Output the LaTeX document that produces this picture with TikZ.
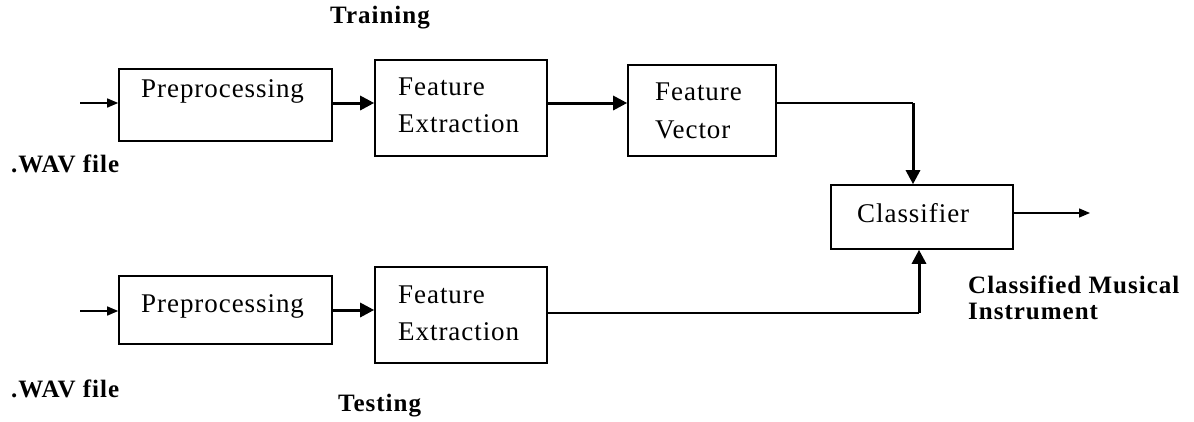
\documentclass[tikz,border=0pt]{standalone}
\usepackage{fontspec}
\setmainfont{Liberation Serif}
\newfontfamily\boxfont[LetterSpace=3.5]{Liberation Serif}
\newfontfamily\lblfont[LetterSpace=4]{Liberation Serif}
\usetikzlibrary{arrows.meta}
\begin{document}
\begin{tikzpicture}[x=1pt,y=-1pt,
  blk/.style={draw,line width=1.6pt,inner sep=0pt},
  txt/.style={inner sep=0pt,font=\boxfont\fontsize{27}{30}\selectfont},
  lbl/.style={inner sep=0pt,font=\lblfont\bfseries\fontsize{25}{28}\selectfont},
  thinarrow/.style={line width=1.4pt,-{Triangle[length=11pt,width=9pt]}},
  thickarrow/.style={line width=3pt,-{Triangle[length=14pt,width=14pt]}},
  thinline/.style={line width=1.4pt}]
\useasboundingbox (0,0) rectangle (1194,421);
% top row
\node[blk,minimum width=213pt,minimum height=72pt] (p1) at (225.5,105) {};
\node[txt,anchor=base west] (p1t) at (141,97) {Preprocessing};
\node[blk,minimum width=172pt,minimum height=96pt] (fe1) at (461,108) {};
\node[txt,anchor=base west] (fe1a) at (398,95) {Feature};
\node[txt,anchor=base west] (fe1b) at (398,132) {Extraction};
\node[blk,minimum width=148pt,minimum height=91pt] (fv) at (702,110.5) {};
\node[txt,anchor=base west] (fva) at (655,100) {Feature};
\node[txt,anchor=base west] (fvb) at (655,138) {Vector};
% classifier
\node[blk,minimum width=182pt,minimum height=64pt] (cls) at (922,217) {};
\node[txt,anchor=base west] (clst) at (857,222) {Classifier};
% bottom row
\node[blk,minimum width=213pt,minimum height=68pt] (p2) at (225.5,310) {};
\node[txt,anchor=base west] (p2t) at (141,312) {Preprocessing};
\node[blk,minimum width=172pt,minimum height=96pt] (fe2) at (461,315) {};
\node[txt,anchor=base west] (fe2a) at (398,303) {Feature};
\node[txt,anchor=base west] (fe2b) at (398,340) {Extraction};
% labels
\node[lbl,anchor=base west] (train) at (330,23) {Training};
\node[lbl,anchor=base west] (wav1) at (11,172) {.WAV file};
\node[lbl,anchor=base west] (wav2) at (11,397) {.WAV file};
\node[lbl,anchor=base west] (test) at (338,411) {Testing};
\node[lbl,anchor=base west] (out1) at (968,293) {Classified Musical};
\node[lbl,anchor=base west] (out2) at (968,319) {Instrument};
% coordinates
\coordinate (in1) at (80,103);
\coordinate (in2) at (80,311);
\coordinate (j1) at (913,103);
\coordinate (j2) at (919,313);
\coordinate (o) at (1090,213);
% connectors
\draw[thinarrow] (in1) -- (p1.west |- in1);
\draw[thickarrow] (p1.east |- in1) -- (fe1.west |- in1);
\draw[thickarrow] (fe1.east |- in1) -- (fv.west |- in1);
\draw[thinline] (fv.east |- j1) -- (j1);
\draw[thickarrow] (j1) -- (j1 |- cls.north);
\draw[thinarrow] (in2) -- (p2.west |- in2);
\draw[thickarrow] (p2.east |- 0,310) -- (fe2.west |- 0,310);
\draw[thinline] (fe2.east |- j2) -- (j2);
\draw[thickarrow] (j2) -- (j2 |- cls.south);
\draw[thinarrow] (cls.east |- o) -- (o);
\end{tikzpicture}
\end{document}
